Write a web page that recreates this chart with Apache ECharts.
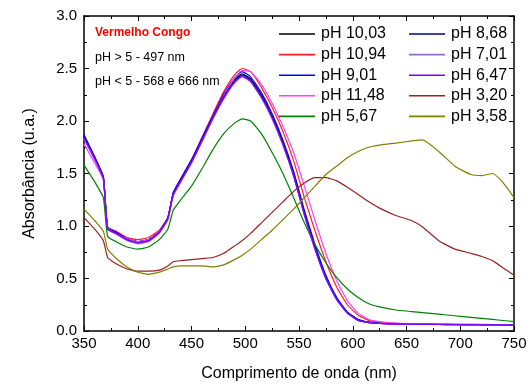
<!DOCTYPE html>
<html>
<head>
<meta charset="utf-8">
<script src="https://cdn.jsdelivr.net/npm/echarts@6/dist/echarts.min.js"></script>
<style>
  html, body { margin: 0; padding: 0; background: #fff; }
  #main { width: 528px; height: 385px; }
</style>
</head>
<body>
<div id="main"></div>
<script>
// wavelengths (nm) shared by every curve
var wl = [350, 360, 368, 372, 380, 390, 400, 410, 420, 428, 433, 440, 450, 460, 470, 480, 490, 497, 505, 515,
          525, 535, 545, 555, 565, 575, 585, 595, 605, 615, 625, 640, 655, 665, 680, 695, 710, 720, 730, 740, 750];

var pH1003 = [1.86, 1.65, 1.46, 0.98, 0.94, 0.88, 0.85, 0.87, 0.95, 1.08, 1.31, 1.44, 1.62, 1.83, 2.04, 2.24, 2.39, 2.45, 2.40, 2.25,
              2.05, 1.80, 1.50, 1.13, 0.80, 0.52, 0.31, 0.18, 0.11, 0.085, 0.075, 0.068, 0.065, 0.064, 0.063, 0.062, 0.061, 0.060, 0.060, 0.059, 0.058];
var pH1094 = [1.84, 1.65, 1.47, 0.99, 0.95, 0.89, 0.87, 0.89, 0.96, 1.08, 1.31, 1.45, 1.63, 1.85, 2.07, 2.28, 2.44, 2.50, 2.47, 2.32,
              2.13, 1.90, 1.62, 1.27, 0.95, 0.66, 0.42, 0.25, 0.15, 0.10, 0.085, 0.072, 0.068, 0.066, 0.065, 0.064, 0.063, 0.062, 0.062, 0.061, 0.060];
var pH901  = [1.87, 1.66, 1.47, 0.99, 0.94, 0.88, 0.85, 0.87, 0.95, 1.08, 1.32, 1.45, 1.63, 1.84, 2.05, 2.26, 2.41, 2.47, 2.42, 2.27,
              2.07, 1.82, 1.52, 1.15, 0.82, 0.53, 0.32, 0.18, 0.11, 0.085, 0.075, 0.068, 0.065, 0.064, 0.063, 0.062, 0.061, 0.060, 0.060, 0.059, 0.058];
var pH1148 = [1.78, 1.60, 1.44, 0.98, 0.93, 0.88, 0.85, 0.87, 0.95, 1.06, 1.29, 1.42, 1.60, 1.81, 2.03, 2.24, 2.41, 2.48, 2.47, 2.35,
              2.17, 1.95, 1.70, 1.38, 1.05, 0.74, 0.48, 0.29, 0.17, 0.11, 0.09, 0.075, 0.070, 0.068, 0.066, 0.065, 0.064, 0.063, 0.062, 0.062, 0.061];
var pH567  = [1.58, 1.42, 1.27, 0.90, 0.85, 0.80, 0.78, 0.80, 0.87, 0.97, 1.15, 1.25, 1.38, 1.55, 1.73, 1.88, 1.98, 2.02, 2.00, 1.88,
              1.70, 1.50, 1.27, 1.03, 0.82, 0.65, 0.51, 0.40, 0.32, 0.26, 0.23, 0.20, 0.185, 0.175, 0.16, 0.145, 0.13, 0.12, 0.11, 0.10, 0.09];
var pH868  = [1.85, 1.64, 1.46, 0.97, 0.93, 0.87, 0.84, 0.86, 0.94, 1.07, 1.30, 1.43, 1.61, 1.82, 2.03, 2.23, 2.38, 2.44, 2.39, 2.24,
              2.03, 1.78, 1.48, 1.11, 0.78, 0.50, 0.30, 0.17, 0.10, 0.08, 0.072, 0.066, 0.064, 0.063, 0.062, 0.061, 0.060, 0.059, 0.059, 0.058, 0.058];
var pH701  = [1.83, 1.63, 1.45, 0.97, 0.92, 0.86, 0.83, 0.85, 0.93, 1.06, 1.29, 1.42, 1.60, 1.81, 2.02, 2.21, 2.36, 2.42, 2.37, 2.22,
              2.02, 1.77, 1.47, 1.10, 0.77, 0.50, 0.30, 0.17, 0.10, 0.08, 0.072, 0.066, 0.064, 0.063, 0.062, 0.061, 0.060, 0.059, 0.059, 0.058, 0.058];
var pH647  = [1.84, 1.64, 1.45, 0.97, 0.93, 0.87, 0.84, 0.86, 0.94, 1.07, 1.30, 1.43, 1.61, 1.82, 2.03, 2.22, 2.37, 2.43, 2.38, 2.23,
              2.03, 1.78, 1.48, 1.11, 0.78, 0.50, 0.30, 0.17, 0.10, 0.08, 0.072, 0.066, 0.064, 0.063, 0.062, 0.061, 0.060, 0.059, 0.059, 0.058, 0.058];
var pH320  = [1.08, 0.97, 0.86, 0.70, 0.64, 0.59, 0.57, 0.57, 0.58, 0.62, 0.66, 0.67, 0.68, 0.69, 0.70, 0.74, 0.81, 0.86, 0.93, 1.03,
              1.13, 1.23, 1.33, 1.41, 1.46, 1.46, 1.43, 1.37, 1.30, 1.23, 1.17, 1.10, 1.05, 0.99, 0.86, 0.78, 0.74, 0.71, 0.67, 0.60, 0.53];
var pH358  = [1.16, 1.05, 0.95, 0.78, 0.69, 0.61, 0.56, 0.54, 0.56, 0.59, 0.61, 0.62, 0.62, 0.62, 0.61, 0.63, 0.68, 0.72, 0.78, 0.87,
              0.96, 1.06, 1.16, 1.27, 1.38, 1.49, 1.57, 1.65, 1.71, 1.75, 1.77, 1.79, 1.81, 1.82, 1.71, 1.57, 1.49, 1.48, 1.50, 1.41, 1.27];

var names  = ['pH 10,03', 'pH 10,94', 'pH 9,01', 'pH 11,48', 'pH 5,67', 'pH 8,68', 'pH 7,01', 'pH 6,47', 'pH 3,20', 'pH 3,58'];
var curves = [pH1003, pH1094, pH901, pH1148, pH567, pH868, pH701, pH647, pH320, pH358];
var colors = ['#000000', '#ff2020', '#0000ff', '#ff40ff', '#008000', '#000080', '#9966cc', '#8000ff', '#992222', '#808000'];

var FONT = 'Liberation Sans, Arial, sans-serif';

function pairs(ys) {
    return wl.map(function (x, i) { return [x, ys[i]]; });
}

var series = curves.map(function (ys, i) {
    return {
        name: names[i],
        type: 'line',
        data: pairs(ys),
        symbol: 'none',
        smooth: 0.15,
        lineStyle: { color: colors[i], width: 1.2 },
        itemStyle: { color: colors[i] }
    };
});

var axisLine = { show: true, onZero: false, lineStyle: { color: '#000', width: 1.5 } };
var tick = { show: true, inside: true, length: 5, lineStyle: { color: '#000', width: 1 } };
var minor = { show: true, splitNumber: 2, length: 3, lineStyle: { color: '#000', width: 1 } };

function legendBlock(list, left) {
    return {
        data: list,
        orient: 'vertical',
        left: left, top: 26,
        padding: 0,
        icon: 'rect',
        itemWidth: 36, itemHeight: 1.6, itemGap: 4.6,
        textStyle: { fontSize: 16, color: '#000', fontFamily: FONT, lineHeight: 16, padding: [0, 0, 0, 1] }
    };
}

var option = {
    animation: false,
    backgroundColor: '#fff',
    textStyle: { fontFamily: FONT },
    grid: { left: 84, right: 14, top: 16, bottom: 54, containLabel: false, outerBoundsMode: 'none' },
    legend: [legendBlock(names.slice(0, 5), 279), legendBlock(names.slice(5), 409)],
    xAxis: [
        {
            type: 'value', min: 350, max: 750, interval: 50, position: 'bottom',
            name: 'Comprimento de onda (nm)', nameLocation: 'middle', nameGap: 35,
            nameTextStyle: { fontSize: 16, color: '#000', fontFamily: FONT },
            axisLine: axisLine, axisTick: tick, minorTick: minor,
            axisLabel: { fontSize: 15, color: '#000', margin: 5, fontFamily: FONT },
            splitLine: { show: false }
        },
        {
            type: 'value', min: 350, max: 750, interval: 50, position: 'top',
            axisLine: axisLine, axisTick: tick, minorTick: minor,
            axisLabel: { show: false }, splitLine: { show: false }
        }
    ],
    yAxis: [
        {
            type: 'value', min: 0, max: 3, interval: 0.5, position: 'left',
            name: 'Absorbância (u.a.)', nameLocation: 'middle', nameGap: 46,
            nameTextStyle: { fontSize: 16, color: '#000', fontFamily: FONT },
            axisLine: axisLine, axisTick: tick, minorTick: minor,
            axisLabel: { fontSize: 15, color: '#000', margin: 7, fontFamily: FONT,
                         formatter: function (v) { return v.toFixed(1); } },
            splitLine: { show: false }
        },
        {
            type: 'value', min: 0, max: 3, interval: 0.5, position: 'right',
            axisLine: axisLine, axisTick: tick, minorTick: minor,
            axisLabel: { show: false }, splitLine: { show: false }
        }
    ],
    graphic: [
        { type: 'text', left: 95, top: 27,
          style: { text: 'Vermelho Congo', fill: '#ff0000', font: 'bold 12px ' + FONT } },
        { type: 'text', left: 95, top: 51,
          style: { text: 'pH > 5 - 497 nm', fill: '#000', font: '12.5px ' + FONT } },
        { type: 'text', left: 95, top: 75,
          style: { text: 'pH < 5 - 568 e 666 nm', fill: '#000', font: '12.5px ' + FONT } }
    ],
    series: series
};

var chart = echarts.init(document.getElementById('main'));
chart.setOption(option);
</script>
</body>
</html>
